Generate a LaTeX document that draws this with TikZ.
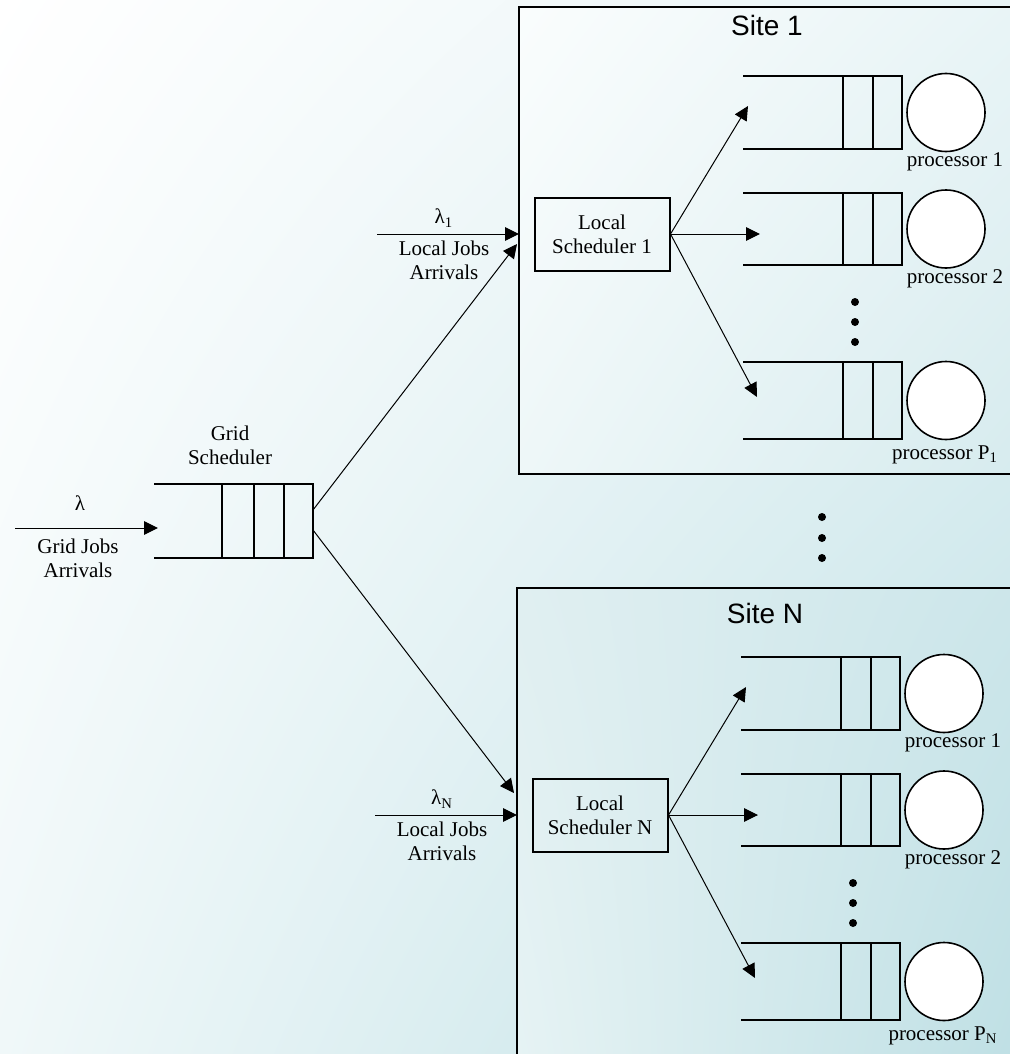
\documentclass[tikz,border=0pt]{standalone}
\usepackage{fontspec}
\setmainfont{Liberation Serif}
\newfontfamily\sitefont{Liberation Sans}
\usetikzlibrary{arrows.meta,positioning,shadings}

\definecolor{bgur}{RGB}{232,244,246}
\definecolor{bgll}{RGB}{240,248,249}
\definecolor{bglr}{RGB}{190,224,229}
\definecolor{siteul1}{RGB}{250,253,253}
\definecolor{siteur1}{RGB}{232,244,246}
\definecolor{sitell1}{RGB}{238,247,248}
\definecolor{sitelr1}{RGB}{214,235,238}
\definecolor{siteulN}{RGB}{224,239,241}
\definecolor{siteurN}{RGB}{204,230,234}
\definecolor{sitellN}{RGB}{230,243,244}
\definecolor{sitelrN}{RGB}{190,223,228}

\tikzset{
  txt/.style={align=center, font=\fontsize{10.5}{12}\selectfont, inner sep=0pt},
  sched/.style={txt, draw, line width=1pt, minimum width=67.5pt, minimum height=36.5pt},
  sitetitle/.style={font=\sitefont\fontsize{14}{16}\selectfont, inner sep=0pt},
  proc/.style={circle, draw, fill=white, line width=0.8pt, minimum size=39pt, inner sep=0pt},
  dot/.style={circle, fill=black, minimum size=4pt, inner sep=0pt},
  qline/.style={line width=1pt},
  arr/.style={-{Triangle[length=7pt,width=6.8pt]}, line width=0.5pt},
}

% processor queue: top, bottom, name of the server
\newcommand{\procqueue}[3]{%
  \draw[qline] (743,#1) -- (902,#1) -- (902,#2) -- (743,#2);
  \draw[qline] (843,#1) -- (843,#2) (873,#1) -- (873,#2);
  \node[proc] (#3) at (946,{(#1+#2)/2}) {};
}

\begin{document}
\begin{tikzpicture}[x=0.5pt, y=-0.5pt]
  \useasboundingbox (0,0) rectangle (1010,1054);
  \shade[upper left=white, upper right=bgur, lower left=bgll, lower right=bglr]
    (0,0) rectangle (1010,1054);
  \clip (0,0) rectangle (1010,1054);

  % the two sites
  \foreach \s/\dx/\dy/\boxbot/\ty in {1/0/0/474/25, N/-2/581/480/32} {
    \begin{scope}[shift={(\dx,\dy)}]
      \shade[upper left=siteul\s, upper right=siteur\s, lower left=sitell\s, lower right=sitelr\s]
        (519,7) rectangle (1030,\boxbot);
      \draw[line width=1pt] (1030,7) -- (519,7) -- (519,\boxbot) -- (1030,\boxbot);
      \node[sitetitle] (title\s) at (767,\ty) {Site \s};
      \node[sched] (ls\s) at (602,234) {Local\\Scheduler \s};

      \procqueue{76}{149}{p\s-1}
      \procqueue{193}{265}{p\s-2}
      \procqueue{362}{439}{p\s-3}
      \node[txt] (pl\s-1) at (955,162) {processor 1};
      \node[txt] (pl\s-2) at (955,279) {processor 2};
      \node[txt] (pl\s-3) at (945,455) {processor P\textsubscript{\s}};
      \node[dot] (d\s-1) at (855,302) {};
      \node[dot] (d\s-2) at (855,322) {};
      \node[dot] (d\s-3) at (855,342) {};

      \coordinate (in\s-1) at (748,106);
      \coordinate (in\s-2) at (760,234);
      \coordinate (in\s-3) at (757,397);
      \draw[arr] (ls\s.east) -- (in\s-1);
      \draw[arr] (ls\s.east) -- (in\s-2);
      \draw[arr] (ls\s.east) -- (in\s-3);

      \coordinate (lsrc\s) at (377,234);
      \coordinate (ltip\s) at (519,234);
      \draw[arr] (lsrc\s) -- (ltip\s);
      \node[txt] (lam\s) at (444,218) {λ\textsubscript{\s}};
      \node[txt] (lja\s) at (444,260) {Local Jobs\\Arrivals};
    \end{scope}
  }

  % dots between the sites
  \node[dot] (md1) at (822,517) {};
  \node[dot] (md2) at (822,538) {};
  \node[dot] (md3) at (822,558) {};

  % grid scheduler
  \draw[qline] (154,484) -- (313,484) -- (313,558) -- (154,558);
  \draw[qline] (222,484) -- (222,558) (254,484) -- (254,558) (284,484) -- (284,558);
  \node[txt] (gs) at (230,445) {Grid\\Scheduler};
  \coordinate (gsrc) at (15,528);
  \coordinate (gin) at (158,528);
  \draw[arr] (gsrc) -- (gin);
  \node[txt] (lam) at (80,503) {λ};
  \node[txt] (gja) at (78,558) {Grid Jobs\\Arrivals};

  \coordinate (gout1) at (313,510);
  \coordinate (goutN) at (313,530);
  \coordinate (gtip1) at (517,244);
  \coordinate (gtipN) at (514,793);
  \draw[arr] (gout1) -- (gtip1);
  \draw[arr] (goutN) -- (gtipN);
\end{tikzpicture}
\end{document}
